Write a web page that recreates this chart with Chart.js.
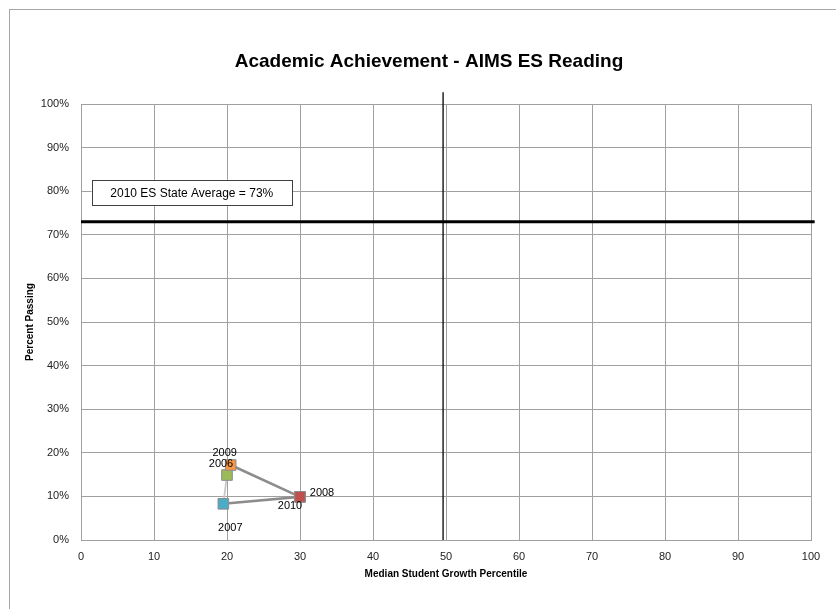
<!DOCTYPE html>
<html>
<head>
<meta charset="utf-8">
<script src="https://cdn.jsdelivr.net/npm/chart.js@4/dist/chart.umd.min.js"></script>
<style>
  html, body { margin: 0; padding: 0; background: #fff; overflow: hidden; }
  #wrap { position: relative; width: 836px; height: 609px; overflow: hidden; }
  #frame { position: absolute; left: 9px; top: 9px; width: 900px; height: 700px; border: 1px solid #a6a6a6; box-sizing: border-box; }
  canvas { position: absolute; left: 0; top: 0; }
</style>
</head>
<body>
<div id="wrap">
  <div id="frame"></div>
  <canvas id="chart" width="858" height="609"></canvas>
</div>
<script>
// Anos e valores
const years = ['2006', '2007', '2008', '2009', '2010'];
const growthPercentile = [20.0, 19.5, 30.0, 20.5, 30.0];
const percentPassing = [14.9, 8.3, 9.9, 17.2, 9.9];
const pointColors = ['#9BBB59', '#4BACC6', '#C0504D', '#F79646', '#C0504D'];

// Linhas de referência
const stateAverage = 73;
const stateAverageLabel = '2010 ES State Average = 73%';
const medianGrowth = 49.6;

// Eixos
const xTicks = [0, 10, 20, 30, 40, 50, 60, 70, 80, 90, 100];
const yTicks = [0, 10, 20, 30, 40, 50, 60, 70, 80, 90, 100];

const FONT = 'Liberation Sans, Arial, sans-serif';

const points = years.map((y, i) => ({ x: growthPercentile[i], y: percentPassing[i] }));

// Deslocamento dos rótulos dos anos (em px) em relação ao ponto
const labelOffsets = [[-6, -11], [7, 24], [22, -4], [-6, -12], [-10, 9]];

// Plugin: rótulos dos anos + caixa de texto da média estadual
const extrasPlugin = {
    id: 'extras',
    afterDatasetsDraw(chart) {
        const ctx = chart.ctx;
        const xs = chart.scales.x, ys = chart.scales.y;
        ctx.save();
        ctx.font = '11px ' + FONT;
        ctx.fillStyle = '#000';
        ctx.textAlign = 'center';
        ctx.textBaseline = 'middle';
        points.forEach((p, i) => {
            const px = xs.getPixelForValue(p.x) + labelOffsets[i][0];
            const py = ys.getPixelForValue(p.y) + labelOffsets[i][1];
            ctx.fillText(years[i], px, py);
        });

        // caixa da média
        const l = xs.getPixelForValue(1.45), r = xs.getPixelForValue(28.9);
        const t = ys.getPixelForValue(82.6), b = ys.getPixelForValue(76.8);
        ctx.fillStyle = '#fff';
        ctx.fillRect(l, t, r - l, b - t);
        ctx.strokeStyle = '#404040';
        ctx.lineWidth = 1;
        ctx.strokeRect(Math.round(l) + 0.5, Math.round(t) + 0.5, Math.round(r - l), Math.round(b - t));
        ctx.fillStyle = '#000';
        ctx.font = '12px ' + FONT;
        ctx.fillText(stateAverageLabel, (l + r) / 2, (t + b) / 2 + 1);
        ctx.restore();
    }
};

const ctx = document.getElementById('chart').getContext('2d');

new Chart(ctx, {
    type: 'scatter',
    data: {
        datasets: [
            {
                label: 'Média estadual',
                data: [{ x: 0, y: stateAverage }, { x: 100.5, y: stateAverage }],
                showLine: true,
                borderColor: '#000',
                borderWidth: 3,
                pointRadius: 0,
                clip: false,
                order: 3
            },
            {
                label: 'Mediana',
                data: [{ x: medianGrowth, y: 0 }, { x: medianGrowth, y: 102.7 }],
                showLine: true,
                borderColor: '#000',
                borderWidth: 1.3,
                pointRadius: 0,
                clip: false,
                order: 2
            },
            {
                label: 'Escola',
                data: points,
                showLine: true,
                borderColor: '#8c8c8c',
                borderWidth: 2.5,
                segment: {
                    borderColor: c => c.p0DataIndex === 0 ? '#c8c8c8' : '#8c8c8c',
                    borderWidth: c => c.p0DataIndex === 0 ? 1.8 : 2.5
                },
                pointStyle: 'rect',
                pointRadius: 7.5,
                pointHoverRadius: 7.5,
                pointBackgroundColor: pointColors,
                pointBorderColor: '#8c8c8c',
                pointBorderWidth: 1,
                order: 1
            }
        ]
    },
    options: {
        responsive: false,
        animation: false,
        layout: { padding: 0 },
        plugins: {
            legend: { display: false },
            tooltip: { enabled: false },
            title: {
                display: true,
                text: 'Academic Achievement - AIMS ES Reading',
                color: '#000',
                font: { family: FONT, size: 19, weight: 'bold', lineHeight: 1.2 },
                padding: { top: 50.6, bottom: 30.6 }
            }
        },
        scales: {
            x: {
                type: 'linear',
                min: 0,
                max: 100,
                afterBuildTicks: s => { s.ticks = xTicks.map(v => ({ value: v })); },
                afterFit: s => { s.height = 69; },
                grid: { color: '#a0a0a0', drawTicks: false },
                border: { color: '#a0a0a0' },
                ticks: { color: '#222', font: { family: FONT, size: 11 }, padding: 10, maxRotation: 0 },
                title: {
                    display: true,
                    text: 'Median Student Growth Percentile',
                    color: '#000',
                    font: { family: FONT, size: 10, weight: 'bold', lineHeight: 1.2 },
                    padding: { top: 4, bottom: 29 }
                }
            },
            y: {
                type: 'linear',
                min: 0,
                max: 100,
                afterBuildTicks: s => { s.ticks = yTicks.map(v => ({ value: v })); },
                afterFit: s => { s.width = 81; },
                grid: { color: '#a0a0a0', drawTicks: false },
                border: { color: '#a0a0a0' },
                ticks: {
                    color: '#222',
                    font: { family: FONT, size: 11 },
                    padding: 12,
                    callback: v => v + '%'
                },
                title: {
                    display: true,
                    text: 'Percent Passing',
                    color: '#000',
                    font: { family: FONT, size: 10, weight: 'bold', lineHeight: 1.2 },
                    padding: { top: 24, bottom: 4 }
                }
            },
            // eixo vazio à direita, só para reservar espaço
            yRight: {
                type: 'linear',
                position: 'right',
                min: 0,
                max: 100,
                afterFit: s => { s.width = 47; },
                grid: { display: false },
                border: { display: false },
                ticks: { display: false }
            }
        }
    },
    plugins: [extrasPlugin]
});
</script>
</body>
</html>
